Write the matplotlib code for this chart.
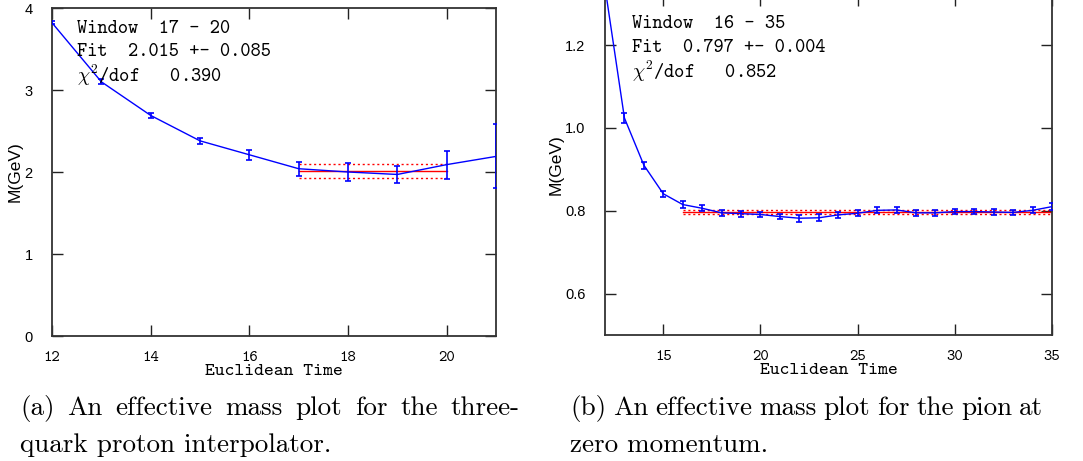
import matplotlib
matplotlib.use("Agg")
import matplotlib.pyplot as plt
import numpy as np

plt.rcParams["mathtext.fontset"] = "cm"

# ---- data: panel (a) proton ----
t_a = [12, 13, 14, 15, 16, 17, 18, 19, 20, 21]
m_a = [3.82, 3.10, 2.69, 2.38, 2.21, 2.04, 2.00, 1.97, 2.09, 2.19]
e_a = [0.02, 0.03, 0.03, 0.04, 0.06, 0.085, 0.11, 0.10, 0.17, 0.39]
fit_a = 2.015
fit_err_a = 0.085
win_a = (17, 20)

# ---- data: panel (b) pion ----
t_b = list(range(12, 36))
m_b = [1.34, 1.024, 0.910, 0.841, 0.815, 0.806, 0.795, 0.793, 0.791, 0.786,
       0.782, 0.783, 0.790, 0.794, 0.801, 0.802, 0.795, 0.795, 0.798, 0.798,
       0.797, 0.796, 0.801, 0.810]
e_b = [0.015, 0.012, 0.008, 0.007, 0.008, 0.007, 0.007, 0.007, 0.007, 0.007,
       0.008, 0.008, 0.007, 0.007, 0.007, 0.008, 0.008, 0.008, 0.007, 0.007,
       0.007, 0.007, 0.007, 0.008]
fit_b = 0.797
fit_err_b = 0.004
win_b = (16, 35)

texts_a = ["Window  17 - 20", "Fit  2.015 +- 0.085", r"$\chi^2$/dof   0.390"]
texts_b = ["Window  16 - 35", "Fit  0.797 +- 0.004", r"$\chi^2$/dof   0.852"]

cap_a = ["(a) An effective mass plot for the three-", "quark proton interpolator."]
cap_b = ["(b) An effective mass plot for the pion at", "zero momentum."]

W, H = 1083, 461
fig = plt.figure(figsize=(W / 100, H / 100), dpi=100)

def px_axes(x0, x1, ytop, ybot):
    return fig.add_axes([x0 / W, 1 - ybot / H, (x1 - x0) / W, (ybot - ytop) / H])

ax1 = px_axes(52, 496, 8, 336)
ax2 = px_axes(605, 1052, -5, 335)

tt = "cmtt10"
sans = "Liberation Sans"
serif = "cmr10"

def style(ax, xticks, yticks, ylabels, top_ticks=True):
    ax.set_xticks(xticks)
    ax.set_yticks(yticks)
    ax.set_yticklabels(ylabels, family=sans, fontsize=10.5)
    ax.set_xticklabels([str(x) for x in xticks], family=tt, fontsize=11.5)
    ax.tick_params(direction="in", length=8, width=1.0, top=top_ticks, right=True,
                   color="#222222")
    ax.tick_params(axis="x", pad=11)
    ax.tick_params(axis="y", pad=14)
    for s in ax.spines.values():
        s.set_linewidth(1.3)
        s.set_color("#333333")
    ax.set_xlabel("Euclidean Time", family=tt, fontsize=13.5, labelpad=-1)
    ax.set_ylabel("M(GeV)", family=sans, fontsize=12.5, labelpad=1)

def draw(ax, t, m, e, fit, ferr, win):
    ax.errorbar(t, m, yerr=e, color="#0000ff", lw=1.0, elinewidth=1.2,
                capsize=2.5, capthick=1.2, clip_on=True, zorder=3)
    ax.plot(win, [fit, fit], color="#ff0000", lw=1.0, zorder=2)
    ax.plot(win, [fit + ferr] * 2, color="#ff0000", lw=1.0, ls=(0, (1.5, 2)), zorder=2)
    ax.plot(win, [fit - ferr] * 2, color="#ff0000", lw=1.0, ls=(0, (1.5, 2)), zorder=2)

draw(ax1, t_a, m_a, e_a, fit_a, fit_err_a, win_a)
ax1.set_xlim(12, 21)
ax1.set_ylim(0, 4)
style(ax1, [12, 14, 16, 18, 20], [0, 1, 2, 3, 4], ["0", "1", "2", "3", "4"])

draw(ax2, t_b, m_b, e_b, fit_b, fit_err_b, win_b)
ax2.set_xlim(12, 35)
ax2.set_ylim(0.5, 1.321)
style(ax2, [15, 20, 25, 30, 35], [0.6, 0.8, 1.0, 1.2], ["0.6", "0.8", "1.0", "1.2"])

def label_block(x0, ys, lines):
    for y, s in zip(ys, lines):
        fig.text(x0 / W, 1 - y / H, s, family=tt, fontsize=14, va="center", ha="left")

label_block(77, [29, 52, 75], texts_a)
label_block(632, [24, 48, 71], texts_b)

renderer = fig.canvas.get_renderer()

def justified(words, x0, x1, y, size):
    arts = [fig.text(0, 1 - y / H, w, family=serif, fontsize=size, va="baseline", ha="left")
            for w in words]
    widths = [a.get_window_extent(renderer).width for a in arts]
    gap = (x1 - x0 - sum(widths)) / (len(words) - 1)
    x = x0
    for a, w in zip(arts, widths):
        a.set_x(x / W)
        x += w + gap

CAP_SIZE = 19.5
for x0, x1, lines in [(20, 520, cap_a), (570, 1043, cap_b)]:
    justified(lines[0].split(" "), x0, x1, 415, CAP_SIZE)
    fig.text(x0 / W, 1 - 452 / H, lines[1], family=serif, fontsize=CAP_SIZE,
             va="baseline", ha="left")

fig.savefig("out.png", dpi=100)
